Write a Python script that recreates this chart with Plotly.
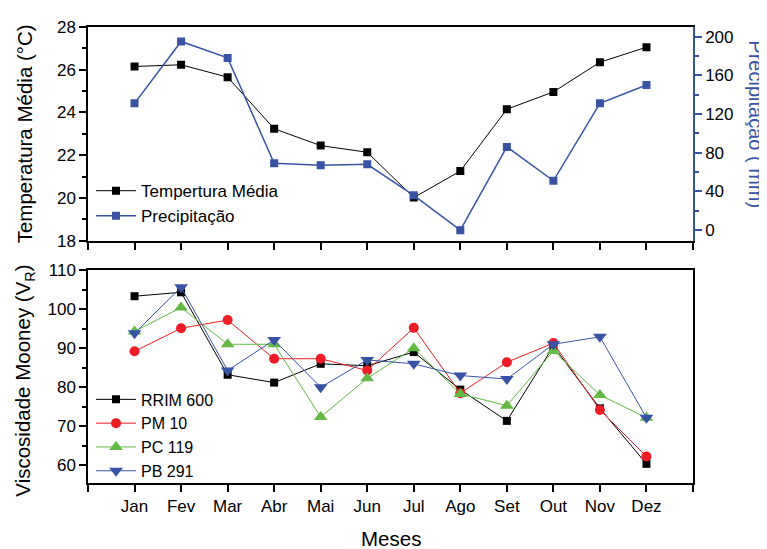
import plotly.graph_objects as go

months = ["Jan", "Fev", "Mar", "Abr", "Mai", "Jun", "Jul", "Ago", "Set", "Out", "Nov", "Dez"]
month_idx = list(range(1, 13))

temperatura = [26.15, 26.23, 25.65, 23.24, 22.45, 22.14, 20.02, 21.26, 24.15, 24.96, 26.35, 27.05]
precipitacao = [131, 195, 178, 69, 67, 68, 36, 0, 86, 51, 131, 150]

rrim600 = [103.3, 104.3, 83.2, 81.2, 86.0, 85.5, 89.0, 79.4, 71.4, 90.5, 74.6, 60.4]
pm10 = [89.2, 95.1, 97.2, 87.3, 87.3, 84.3, 95.2, 78.5, 86.4, 91.3, 74.2, 62.3]
pc119 = [94.3, 100.4, 91.0, 91.0, 72.4, 82.3, 90.0, 78.3, 75.3, 89.3, 78.0, 72.2]
pb291 = [93.8, 105.6, 84.3, 92.1, 80.0, 87.0, 86.0, 83.0, 82.1, 91.0, 92.9, 72.2]

BLUE = "#3953a4"
RED = "#ee1c24"
GREEN = "#62b946"
FONT = "Liberation Sans, Arial, sans-serif"

fig = go.Figure()

fig.add_trace(go.Scatter(x=month_idx, y=temperatura, name="Tempertura Média", mode="lines+markers",
                         line=dict(color="black", width=1), marker=dict(symbol="square", size=8, color="black"),
                         xaxis="x", yaxis="y", legend="legend"))
fig.add_trace(go.Scatter(x=month_idx, y=precipitacao, name="Precipitação", mode="lines+markers",
                         line=dict(color=BLUE, width=1.5), marker=dict(symbol="square", size=8, color=BLUE),
                         xaxis="x", yaxis="y3", legend="legend"))

fig.add_trace(go.Scatter(x=month_idx, y=rrim600, name="RRIM 600", mode="lines+markers",
                         line=dict(color="black", width=1), marker=dict(symbol="square", size=8, color="black"),
                         xaxis="x2", yaxis="y2", legend="legend2"))
fig.add_trace(go.Scatter(x=month_idx, y=pm10, name="PM 10", mode="lines+markers",
                         line=dict(color=RED, width=1), marker=dict(symbol="circle", size=10, color=RED),
                         xaxis="x2", yaxis="y2", legend="legend2"))
fig.add_trace(go.Scatter(x=month_idx, y=pc119, name="PC 119", mode="lines+markers",
                         line=dict(color=GREEN, width=1), marker=dict(symbol="triangle-up", size=12, color=GREEN),
                         xaxis="x2", yaxis="y2", legend="legend2"))
fig.add_trace(go.Scatter(x=month_idx, y=pb291, name="PB 291", mode="lines+markers",
                         line=dict(color=BLUE, width=1), marker=dict(symbol="triangle-down", size=12, color=BLUE),
                         xaxis="x2", yaxis="y2", legend="legend2"))

tickfont = dict(family=FONT, size=17, color="black")
axis_common = dict(showgrid=False, zeroline=False, ticks="outside", tickfont=tickfont,
                   linecolor="black", linewidth=1.5, tickcolor="black", tickwidth=1.5, ticklen=7)
x_minor = dict(ticks="outside", ticklen=7, dtick=1, tick0=0, tickcolor="black", tickwidth=1.5, showgrid=False)

top_dom = [0.530, 0.998]
bot_dom = [0.0, 0.466]

fig.update_layout(
    width=759, height=541,
    margin=dict(l=80, r=74, t=9, b=66),
    paper_bgcolor="white", plot_bgcolor="white",
    font=dict(family=FONT, size=17, color="black"),
    xaxis=dict(**axis_common, domain=[0, 1], anchor="y", range=[0, 13], tickvals=month_idx,
               ticktext=months, showticklabels=False, mirror=True, minor=x_minor),
    yaxis=dict(**axis_common, domain=top_dom, anchor="x", range=[18, 28], dtick=2, tick0=18,
               minor=dict(ticks="outside", ticklen=4, dtick=1, tickcolor="black", tickwidth=1.5)),
    yaxis3=dict(showgrid=False, zeroline=False, ticks="outside", tickfont=tickfont,
                linecolor=BLUE, linewidth=1.5, tickcolor=BLUE, tickwidth=1.5, ticklen=7,
                overlaying="y", side="right", anchor="x", range=[-11, 210], dtick=40, tick0=0,
                minor=dict(ticks="outside", ticklen=4, dtick=20, tick0=0, tickcolor=BLUE, tickwidth=1.5)),
    xaxis2=dict(**axis_common, domain=[0, 1], anchor="y2", range=[0, 13], tickvals=month_idx,
                ticktext=months, mirror=True, minor=x_minor),
    yaxis2=dict(**axis_common, domain=bot_dom, anchor="x2", range=[55.5, 110], dtick=10, tick0=60,
                mirror=True,
                minor=dict(ticks="outside", ticklen=4, dtick=5, tick0=55, tickcolor="black", tickwidth=1.5)),
    legend=dict(x=0.005, y=0.678, xanchor="left", yanchor="top", bgcolor="rgba(0,0,0,0)",
                font=dict(family=FONT, size=17, color="black"), tracegroupgap=0, itemwidth=40),
    legend2=dict(x=0.005, y=0.22, xanchor="left", yanchor="top", bgcolor="rgba(0,0,0,0)",
                 font=dict(family=FONT, size=16, color="black"), tracegroupgap=0, itemwidth=40),
    showlegend=True,
    annotations=[
        dict(text="Temperatura Média (°C)", xref="paper", yref="paper", x=-0.105, y=(top_dom[0] + top_dom[1]) / 2,
             textangle=-90, showarrow=False, font=dict(family=FONT, size=20.5, color="black"), xanchor="center", yanchor="middle"),
        dict(text="Precipitação ( mm)", xref="paper", yref="paper", x=1.104, y=0.785,
             textangle=90, showarrow=False, font=dict(family=FONT, size=20, color=BLUE), xanchor="center", yanchor="middle"),
        dict(text="Viscosidade Mooney (V<sub>R</sub>)", xref="paper", yref="paper", x=-0.105, y=0.225,
             textangle=-90, showarrow=False, font=dict(family=FONT, size=20.5, color="black"), xanchor="center", yanchor="middle"),
        dict(text="Meses", xref="paper", yref="paper", x=0.5, y=-0.122,
             showarrow=False, font=dict(family=FONT, size=20.5, color="black"), xanchor="center", yanchor="middle"),
    ],
)

fig.write_html("out.html")
